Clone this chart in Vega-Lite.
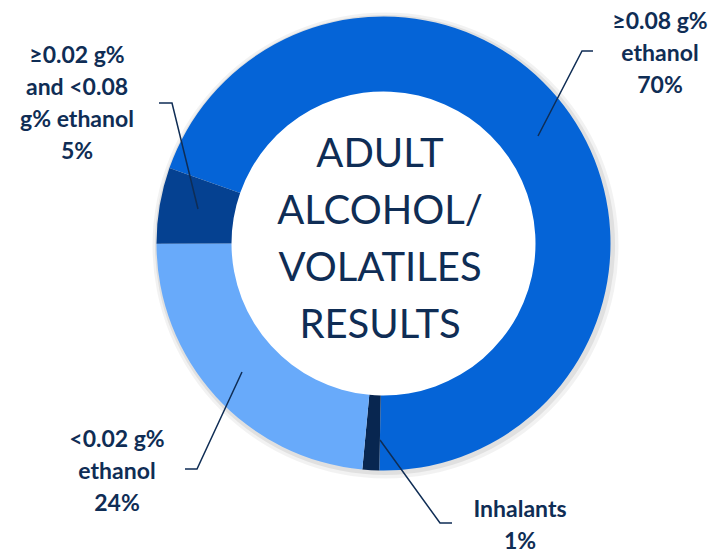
{
  "$schema": "https://vega.github.io/schema/vega-lite/v6.json",
  "width": 725,
  "height": 554,
  "padding": 0,
  "autosize": {"type": "none"},
  "background": "white",
  "config": {"view": {"stroke": null}},
  "datasets": {
    "slices": [
      {"cat": "≥0.08 g% ethanol", "v": 69.9, "o": 1, "cx": 0, "cy": 0},
      {"cat": "Inhalants", "v": 1.2, "o": 2, "cx": 0, "cy": 0},
      {"cat": "<0.02 g% ethanol", "v": 23.5, "o": 3, "cx": 0, "cy": 0},
      {"cat": "≥0.02 g% and <0.08 g% ethanol", "v": 5.4, "o": 4, "cx": 0, "cy": 0}
    ],
    "ring": [
      {"cx": 0, "cy": 0}
    ],
    "labels": [
      {"cat": "≥0.08 g% ethanol", "txt": "≥0.08 g%\nethanol\n70%", "tx": 276.5, "ty": 214.5},
      {"cat": "≥0.02 g% and <0.08 g% ethanol", "txt": "≥0.02 g%\nand <0.08\ng% ethanol\n5%", "tx": -306.5, "ty": 180.5},
      {"cat": "<0.02 g% ethanol", "txt": "<0.02 g%\nethanol\n24%", "tx": -266.5, "ty": -203.5},
      {"cat": "Inhalants", "txt": "Inhalants\n1%", "tx": 136.5, "ty": -273.5}
    ],
    "leaders": [
      {"cat": "≥0.08 g% ethanol", "pt": 1, "lx": 154.5, "ly": 107.5},
      {"cat": "≥0.08 g% ethanol", "pt": 2, "lx": 198.5, "ly": 192.5},
      {"cat": "≥0.08 g% ethanol", "pt": 3, "lx": 209.5, "ly": 192.5},
      {"cat": "≥0.02 g% and <0.08 g% ethanol", "pt": 1, "lx": -185.5, "ly": 34.5},
      {"cat": "≥0.02 g% and <0.08 g% ethanol", "pt": 2, "lx": -211.5, "ly": 140.5},
      {"cat": "≥0.02 g% and <0.08 g% ethanol", "pt": 3, "lx": -224.5, "ly": 140.5},
      {"cat": "<0.02 g% ethanol", "pt": 1, "lx": -141.5, "ly": -128.5},
      {"cat": "<0.02 g% ethanol", "pt": 2, "lx": -186.5, "ly": -225.5},
      {"cat": "<0.02 g% ethanol", "pt": 3, "lx": -198.5, "ly": -225.5},
      {"cat": "Inhalants", "pt": 1, "lx": -3.5, "ly": -196.5},
      {"cat": "Inhalants", "pt": 2, "lx": 56.5, "ly": -279.5},
      {"cat": "Inhalants", "pt": 3, "lx": 68.5, "ly": -279.5}
    ],
    "center": [
      {"txt": "ADULT\nALCOHOL/\nVOLATILES\nRESULTS", "tx": -3.5, "ty": 76.5}
    ]
  },
  "layer": [
    {
      "data": {"name": "ring"},
      "mark": {"type": "arc", "innerRadius": 224, "outerRadius": 233, "theta": 0, "theta2": 6.2832, "color": "#000000", "opacity": 0.05, "xOffset": 2, "yOffset": 2},
      "encoding": {
        "x": {"field": "cx", "type": "quantitative", "axis": null, "scale": {"domain": [-383.5, 341.5], "nice": false, "zero": false}},
        "y": {"field": "cy", "type": "quantitative", "axis": null, "scale": {"domain": [-310.5, 243.5], "nice": false, "zero": false}}
      }
    },
    {
      "data": {"name": "ring"},
      "mark": {"type": "arc", "innerRadius": 224, "outerRadius": 230, "theta": 0, "theta2": 6.2832, "color": "#000000", "opacity": 0.07, "xOffset": 1.5, "yOffset": 1.5},
      "encoding": {
        "x": {"field": "cx", "type": "quantitative"},
        "y": {"field": "cy", "type": "quantitative"}
      }
    },
    {
      "data": {"name": "slices"},
      "mark": {"type": "arc", "innerRadius": 152, "outerRadius": 227},
      "encoding": {
        "theta": {"field": "v", "type": "quantitative", "stack": true, "scale": {"range": [5.051, 11.3342]}},
        "order": {"field": "o", "type": "quantitative"},
        "color": {
          "field": "cat", "type": "nominal", "legend": null,
          "scale": {
            "domain": ["≥0.08 g% ethanol", "Inhalants", "<0.02 g% ethanol", "≥0.02 g% and <0.08 g% ethanol"],
            "range": ["#0564d7", "#082650", "#68aafa", "#054191"]
          }
        },
        "x": {"field": "cx", "type": "quantitative"},
        "y": {"field": "cy", "type": "quantitative"}
      }
    },
    {
      "data": {"name": "leaders"},
      "mark": {"type": "line", "color": "#0f2d55", "strokeWidth": 1.5},
      "encoding": {
        "x": {"field": "lx", "type": "quantitative"},
        "y": {"field": "ly", "type": "quantitative"},
        "detail": {"field": "cat", "type": "nominal"},
        "order": {"field": "pt", "type": "quantitative"}
      }
    },
    {
      "data": {"name": "labels"},
      "mark": {"type": "text", "font": "Lato", "fontWeight": "bold", "fontSize": 23, "lineHeight": 32, "color": "#0f2d55", "align": "center", "baseline": "alphabetic", "lineBreak": "\n"},
      "encoding": {
        "x": {"field": "tx", "type": "quantitative"},
        "y": {"field": "ty", "type": "quantitative"},
        "text": {"field": "txt", "type": "nominal"}
      }
    },
    {
      "data": {"name": "center"},
      "mark": {"type": "text", "font": "Lato", "fontSize": 40, "lineHeight": 57, "color": "#0f2d55", "align": "center", "baseline": "alphabetic", "lineBreak": "\n"},
      "encoding": {
        "x": {"field": "tx", "type": "quantitative"},
        "y": {"field": "ty", "type": "quantitative"},
        "text": {"field": "txt", "type": "nominal"}
      }
    }
  ]
}
